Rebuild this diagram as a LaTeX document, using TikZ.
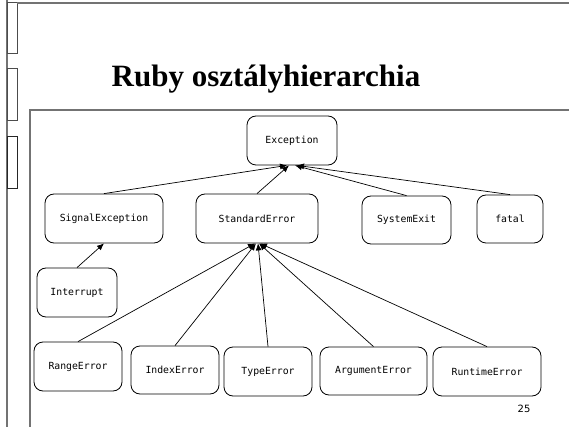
\documentclass[tikz,border=0pt]{standalone}
\usepackage{fontspec}
\setmainfont{Liberation Serif}
\newfontfamily\boxfont{DejaVu Sans Mono}
\newfontfamily\numfont{DejaVu Sans}
\usetikzlibrary{arrows.meta}
\begin{document}
\begin{tikzpicture}[x=1pt,y=-1pt,
  cls/.style={draw=black, line width=0.8pt, rounded corners=9pt, font=\boxfont\fontsize{9.8}{11}\selectfont, inner sep=0pt},
  inh/.style={-{Latex[length=7pt,width=6pt]}, line width=0.7pt},
  frame/.style={draw=black!55, line width=1.2pt}]
\useasboundingbox (0,0) rectangle (569,427);
% left strip and frame
\draw[frame] (7,0) -- (7,427);
\draw[draw=black!70, line width=1pt] (7,3) rectangle (17,54);
\draw[draw=black!70, line width=1pt] (7,69) rectangle (17,121);
\draw[draw=black!85, line width=1pt] (7,137) rectangle (17,189);
\draw[frame] (17,3) -- (569,3);
\draw[frame] (30,427) -- (30,110) -- (569,110);
% title
\node[font=\bfseries\fontsize{31}{36}\selectfont, anchor=base, inner sep=0pt] (title) at (266,87) {Ruby osztályhierarchia};
% classes
\node[cls, minimum width=90pt, minimum height=49pt] (exc) at (292,140.5) {Exception};
\node[cls, minimum width=118pt, minimum height=49pt] (sig) at (104,218.5) {SignalException};
\node[cls, minimum width=122pt, minimum height=49pt] (std) at (257,218.5) {StandardError};
\node[cls, minimum width=89pt, minimum height=48pt] (sys) at (406.5,220) {SystemExit};
\node[cls, minimum width=66pt, minimum height=48pt] (fat) at (510,219) {fatal};
\node[cls, minimum width=80pt, minimum height=49pt] (int) at (77,292.5) {Interrupt};
\node[cls, minimum width=88pt, minimum height=49pt] (rng) at (78,366.5) {RangeError};
\node[cls, minimum width=88pt, minimum height=48pt] (idx) at (175,370) {IndexError};
\node[cls, minimum width=88pt, minimum height=49pt] (typ) at (268,371.5) {TypeError};
\node[cls, minimum width=107pt, minimum height=48pt] (arg) at (373.5,371) {ArgumentError};
\node[cls, minimum width=108pt, minimum height=49pt] (run) at (487,371.5) {RuntimeError};
% inheritance arrows
\draw[inh] (sig.north) -- ([xshift=-5pt]exc.south);
\draw[inh] (std.north) -- ([xshift=-3pt]exc.south);
\draw[inh] (sys.north) -- ([xshift=3pt]exc.south);
\draw[inh] (fat.north) -- ([xshift=5pt]exc.south);
\draw[inh] (int.north) -- (sig.south);
\draw[inh] (rng.north) -- ([xshift=-2pt]std.south);
\draw[inh] (idx.north) -- ([xshift=-1pt]std.south);
\draw[inh] (typ.north) -- ([xshift=1pt]std.south);
\draw[inh] (arg.north) -- ([xshift=2pt]std.south);
\draw[inh] (run.north) -- ([xshift=3pt]std.south);
% page number
\node[font=\numfont\fontsize{10}{11}\selectfont] (pg) at (524,409) {25};
\end{tikzpicture}
\end{document}
